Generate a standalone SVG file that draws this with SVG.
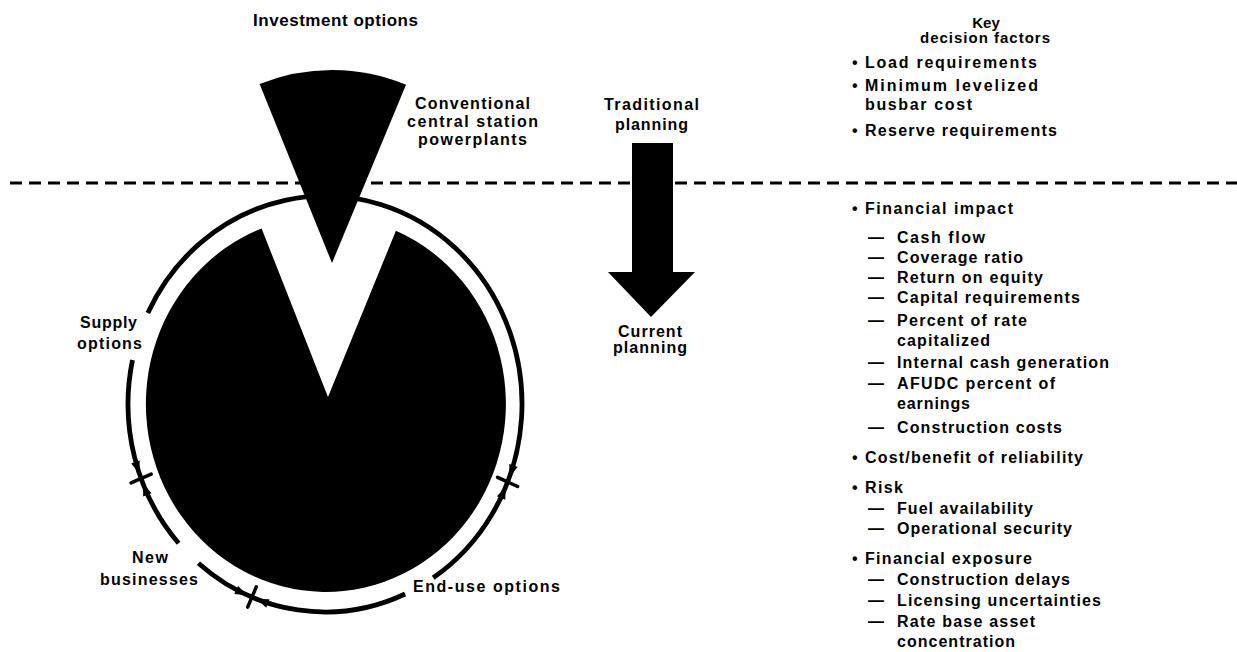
<svg xmlns="http://www.w3.org/2000/svg" xmlns:xlink="http://www.w3.org/1999/xlink" width="1237" height="652" viewBox="0 0 1237 652">
<style>
.t{font-family:"Liberation Sans",Arial,Helvetica,sans-serif;font-weight:bold;font-size:16px;fill:#000}
.h{font-size:17px}
.k{font-size:15px}
.ring{fill:none;stroke:#000;stroke-width:4.8}
.x{stroke:#000;stroke-width:3.5;stroke-linecap:round}
.dash{stroke:#000;stroke-width:3;stroke-dasharray:12 7;fill:none}
.blk{fill:#000}
</style>
<defs>
<path id="ah" d="M0,0 L-12,-4.5 L-12,4.5 Z" fill="#000"/>
</defs>
<rect width="1237" height="652" fill="#fff"/>

<g id="divider">
<line class="dash" x1="10" y1="183" x2="1237" y2="183"/>
</g>

<g id="connectors">
<path class="ring" d="M147.8,313.1 A197,208 0 1,1 433.2,577.8"/>
<path class="ring" d="M405.1,594 A197,208 0 0,1 198.4,563.3"/>
<path class="ring" d="M178.6,543.2 A197,208 0 0,1 132.5,360"/>
<use xlink:href="#ah" transform="translate(509.5,476.8) rotate(109.5)"/>
<use xlink:href="#ah" transform="translate(505.7,486.9) rotate(-67.6)"/>
<line class="x" x1="497.6" y1="477.3" x2="517.6" y2="486.5"/>
<use xlink:href="#ah" transform="translate(139.3,473.4) rotate(71.4)"/>
<use xlink:href="#ah" transform="translate(143,483.6) rotate(-111.4)"/>
<line class="x" x1="131" y1="482.9" x2="151.2" y2="474.1"/>
<use xlink:href="#ah" transform="translate(247.1,595) rotate(24.5)"/>
<use xlink:href="#ah" transform="translate(256.7,599.1) rotate(201.3)"/>
<line class="x" x1="247.7" y1="607.1" x2="256.3" y2="586.9"/>
</g>

<g id="pie">
<path class="blk" d="M328,397 L261.6,228.4 A180,188 0 1,0 395.9,230.8 Z"/>
</g>

<g id="cone">
<path class="blk" d="M332,263 L259.6,84.1 A193,193 0 0,1 406,84.7 Z"/>
</g>

<g id="planning-arrow">
<path class="blk" d="M632,143 L673,143 L673,272 L695,272 L651,317 L608,272 L632,272 Z"/>
</g>

<g id="investment-options">
<text class="t h" x="253" y="26" textLength="165" lengthAdjust="spacing">Investment options</text>
</g>

<g id="conventional-label">
<text class="t" x="415" y="109" textLength="115" lengthAdjust="spacing">Conventional</text>
<text class="t" x="407" y="127" textLength="131" lengthAdjust="spacing">central station</text>
<text class="t" x="418" y="145" textLength="109" lengthAdjust="spacing">powerplants</text>
</g>

<g id="traditional-planning">
<text class="t" x="604" y="110" textLength="95" lengthAdjust="spacing">Traditional</text>
<text class="t" x="615" y="130" textLength="73" lengthAdjust="spacing">planning</text>
</g>

<g id="current-planning">
<text class="t" x="618" y="337" textLength="64" lengthAdjust="spacing">Current</text>
<text class="t" x="613" y="353" textLength="74" lengthAdjust="spacing">planning</text>
</g>

<g id="supply-options">
<text class="t" x="80" y="328" textLength="57" lengthAdjust="spacing">Supply</text>
<text class="t" x="77" y="349" textLength="65" lengthAdjust="spacing">options</text>
</g>

<g id="new-businesses">
<text class="t" x="132" y="563" textLength="36" lengthAdjust="spacing">New</text>
<text class="t" x="100" y="585" textLength="98" lengthAdjust="spacing">businesses</text>
</g>

<g id="end-use-options">
<text class="t" x="413" y="592" textLength="147" lengthAdjust="spacing">End-use options</text>
</g>

<g id="key-decision-factors">
<text class="t k" x="986" y="28" text-anchor="middle">Key</text>
<text class="t k" x="920" y="43" textLength="130" lengthAdjust="spacing">decision factors</text>

<text class="t" x="852" y="68">•</text>
<text class="t" x="865" y="68" textLength="172" lengthAdjust="spacing">Load requirements</text>
<text class="t" x="852" y="91">•</text>
<text class="t" x="865" y="91" textLength="173" lengthAdjust="spacing">Minimum levelized</text>
<text class="t" x="865" y="110" textLength="107" lengthAdjust="spacing">busbar cost</text>
<text class="t" x="852" y="136">•</text>
<text class="t" x="865" y="136" textLength="192" lengthAdjust="spacing">Reserve requirements</text>

<text class="t" x="852" y="214">•</text>
<text class="t" x="865" y="214" textLength="148" lengthAdjust="spacing">Financial impact</text>
<text class="t" x="868" y="243" textLength="16" lengthAdjust="spacingAndGlyphs">—</text>
<text class="t" x="897" y="243" textLength="88" lengthAdjust="spacing">Cash flow</text>
<text class="t" x="868" y="263" textLength="16" lengthAdjust="spacingAndGlyphs">—</text>
<text class="t" x="897" y="263" textLength="126" lengthAdjust="spacing">Coverage ratio</text>
<text class="t" x="868" y="283" textLength="16" lengthAdjust="spacingAndGlyphs">—</text>
<text class="t" x="897" y="283" textLength="146" lengthAdjust="spacing">Return on equity</text>
<text class="t" x="868" y="303" textLength="16" lengthAdjust="spacingAndGlyphs">—</text>
<text class="t" x="897" y="303" textLength="183" lengthAdjust="spacing">Capital requirements</text>
<text class="t" x="868" y="326" textLength="16" lengthAdjust="spacingAndGlyphs">—</text>
<text class="t" x="897" y="326" textLength="130" lengthAdjust="spacing">Percent of rate</text>
<text class="t" x="897" y="346" textLength="93" lengthAdjust="spacing">capitalized</text>
<text class="t" x="868" y="368" textLength="16" lengthAdjust="spacingAndGlyphs">—</text>
<text class="t" x="897" y="368" textLength="212" lengthAdjust="spacing">Internal cash generation</text>
<text class="t" x="868" y="389" textLength="16" lengthAdjust="spacingAndGlyphs">—</text>
<text class="t" x="897" y="389" textLength="158" lengthAdjust="spacing">AFUDC percent of</text>
<text class="t" x="897" y="409" textLength="73" lengthAdjust="spacing">earnings</text>
<text class="t" x="868" y="433" textLength="16" lengthAdjust="spacingAndGlyphs">—</text>
<text class="t" x="897" y="433" textLength="165" lengthAdjust="spacing">Construction costs</text>

<text class="t" x="852" y="463">•</text>
<text class="t" x="865" y="463" textLength="218" lengthAdjust="spacing">Cost/benefit of reliability</text>

<text class="t" x="852" y="493">•</text>
<text class="t" x="865" y="493" textLength="38" lengthAdjust="spacing">Risk</text>
<text class="t" x="868" y="514" textLength="16" lengthAdjust="spacingAndGlyphs">—</text>
<text class="t" x="897" y="514" textLength="136" lengthAdjust="spacing">Fuel availability</text>
<text class="t" x="868" y="534" textLength="16" lengthAdjust="spacingAndGlyphs">—</text>
<text class="t" x="897" y="534" textLength="175" lengthAdjust="spacing">Operational security</text>

<text class="t" x="852" y="564">•</text>
<text class="t" x="865" y="564" textLength="167" lengthAdjust="spacing">Financial exposure</text>
<text class="t" x="868" y="585" textLength="16" lengthAdjust="spacingAndGlyphs">—</text>
<text class="t" x="897" y="585" textLength="173" lengthAdjust="spacing">Construction delays</text>
<text class="t" x="868" y="606" textLength="16" lengthAdjust="spacingAndGlyphs">—</text>
<text class="t" x="897" y="606" textLength="204" lengthAdjust="spacing">Licensing uncertainties</text>
<text class="t" x="868" y="627" textLength="16" lengthAdjust="spacingAndGlyphs">—</text>
<text class="t" x="897" y="627" textLength="138" lengthAdjust="spacing">Rate base asset</text>
<text class="t" x="897" y="647" textLength="118" lengthAdjust="spacing">concentration</text>
</g>
</svg>
